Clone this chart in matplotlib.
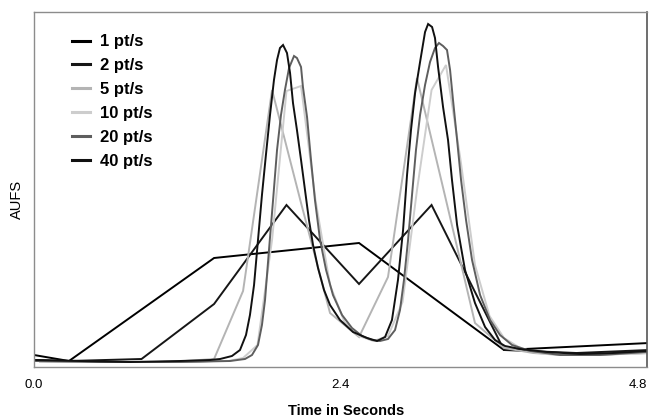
import matplotlib
matplotlib.use("Agg")
import matplotlib.pyplot as plt

plt.rcParams['font.family'] = ['Liberation Sans', 'DejaVu Sans']

# --- detector traces (time in s, signal in arbitrary AUFS units) ---
t_1 = [0.000, 0.274, 1.410, 2.545, 3.680, 4.816]
y_1 = [12, 6, 109, 124, 17, 24]

t_2 = [0.000, 0.274, 0.842, 1.410, 1.977, 2.545, 3.113, 3.680, 4.248, 4.816]
y_2 = [7, 6, 8, 63, 162, 83, 162, 17, 14, 17]

t_5 = [0.047, 0.274, 0.501, 0.728, 0.955, 1.182, 1.410, 1.637, 1.864, 2.091, 2.318,
       2.545, 2.772, 2.999, 3.226, 3.453, 3.680, 3.908, 4.135, 4.362, 4.589, 4.816]
y_5 = [6, 5, 5, 5, 5, 6, 8, 76, 277, 164, 54,
       30, 90, 289, 167, 44, 19, 14, 12, 12, 13, 14]

t_10 = [0.047, 0.161, 0.274, 0.388, 0.501, 0.615, 0.728, 0.842, 0.955, 1.069, 1.182,
        1.296, 1.410, 1.523, 1.637, 1.750, 1.864, 1.977, 2.091, 2.204, 2.318, 2.431,
        2.545, 2.659, 2.772, 2.886, 2.999, 3.113, 3.226, 3.340, 3.453, 3.567, 3.680,
        3.794, 3.908, 4.021, 4.135, 4.248, 4.362, 4.475, 4.589, 4.702, 4.816]
y_10 = [5, 5, 5, 5, 5, 5, 5, 5, 5, 5, 5,
        5, 6, 6, 9, 22, 127, 276, 281, 167, 82, 45,
        31, 26, 31, 65, 177, 277, 302, 207, 102, 51, 29,
        20, 15, 13, 12, 12, 12, 12, 13, 13, 14]

t_20 = [0.000, 0.517, 1.143, 1.535, 1.652, 1.707, 1.754, 1.785, 1.809, 1.840, 1.872,
        1.903, 1.934, 1.965, 1.997, 2.036, 2.059, 2.091, 2.106, 2.138, 2.169, 2.200,
        2.240, 2.287, 2.341, 2.412, 2.490, 2.568, 2.647, 2.709, 2.772, 2.827, 2.866,
        2.897, 2.929, 2.960, 2.991, 3.023, 3.062, 3.101, 3.140, 3.171, 3.203, 3.234,
        3.258, 3.281, 3.313, 3.344, 3.383, 3.430, 3.493, 3.571, 3.649, 3.743, 3.884,
        4.119, 4.432, 4.800]
y_20 = [6, 5, 5, 6, 8, 12, 22, 42, 67, 117, 167,
        217, 252, 277, 299, 311, 309, 300, 280, 250, 207, 167,
        127, 97, 72, 52, 39, 31, 27, 26, 28, 37, 57,
        87, 127, 172, 217, 252, 282, 305, 319, 324, 321, 317,
        297, 267, 227, 187, 147, 107, 72, 47, 32, 22, 16,
        12, 12, 15]

t_40 = [0.000, 0.360, 0.752, 1.143, 1.378, 1.457, 1.550, 1.613, 1.660, 1.691, 1.723,
        1.754, 1.785, 1.816, 1.848, 1.879, 1.903, 1.926, 1.950, 1.981, 2.005, 2.028,
        2.059, 2.091, 2.122, 2.153, 2.185, 2.224, 2.271, 2.318, 2.396, 2.498, 2.608,
        2.686, 2.749, 2.803, 2.850, 2.890, 2.921, 2.952, 2.984, 3.023, 3.062, 3.086,
        3.117, 3.140, 3.164, 3.203, 3.242, 3.273, 3.313, 3.375, 3.453, 3.532, 3.610,
        3.688, 3.806, 4.017, 4.276, 4.534, 4.800]
y_40 = [7, 6, 5, 6, 7, 8, 11, 17, 32, 52, 82,
        127, 172, 212, 252, 287, 307, 319, 322, 314, 294, 264,
        237, 207, 177, 147, 122, 99, 77, 62, 47, 35, 29,
        26, 30, 47, 87, 137, 192, 237, 274, 305, 335, 343,
        340, 329, 300, 260, 227, 187, 142, 97, 64, 40, 27,
        21, 18, 15, 13, 14, 16]

series = [
    ("1 pt/s", t_1, y_1, "#000000"),
    ("2 pt/s", t_2, y_2, "#161616"),
    ("5 pt/s", t_5, y_5, "#b4b4b4"),
    ("10 pt/s", t_10, y_10, "#cdcdcd"),
    ("20 pt/s", t_20, y_20, "#5e5e5e"),
    ("40 pt/s", t_40, y_40, "#111111"),
]

x_ticks = [0.0, 2.4, 4.8]
x_tick_labels = ["0.0", "2.4", "4.8"]

fig = plt.figure(figsize=(6.49, 4.18), dpi=100)
ax = fig.add_axes([34 / 649, 51 / 418, 613 / 649, 355 / 418])

for label, t, y, color in series:
    ax.plot(t, y, color=color, lw=1.4, label=label, solid_joinstyle="miter")

ax.set_xlim(0, 4.8)
ax.set_ylim(0, 355)
ax.set_yticks([])
ax.set_xticks(x_ticks, x_tick_labels)
ax.tick_params(axis="x", length=0, pad=8.5, labelsize=9.5)
# keep the last tick label inside the figure edge
ax.get_xticklabels()[-1].set_horizontalalignment("right")

for side in ["left", "bottom", "top"]:
    ax.spines[side].set_color("#8c8c8c")
    ax.spines[side].set_linewidth(1.0)
ax.spines["right"].set_color("#555555")
ax.spines["right"].set_linewidth(1.2)

ax.set_ylabel("AUFS", fontsize=10.5)
ax.yaxis.set_label_coords(-0.017, 0.473)
ax.set_xlabel("Time in Seconds", fontsize=10.5, fontweight="bold")
ax.xaxis.set_label_coords(0.509, -0.104)

leg = ax.legend(loc="upper left", bbox_to_anchor=(0.062, 0.937), frameon=False,
                borderpad=0, borderaxespad=0, handlelength=1.1, handletextpad=0.55,
                labelspacing=0.53, prop={"weight": "bold", "size": 12})
for line in leg.get_lines():
    line.set_linewidth(2.2)

fig.savefig("out.png", dpi=100)
